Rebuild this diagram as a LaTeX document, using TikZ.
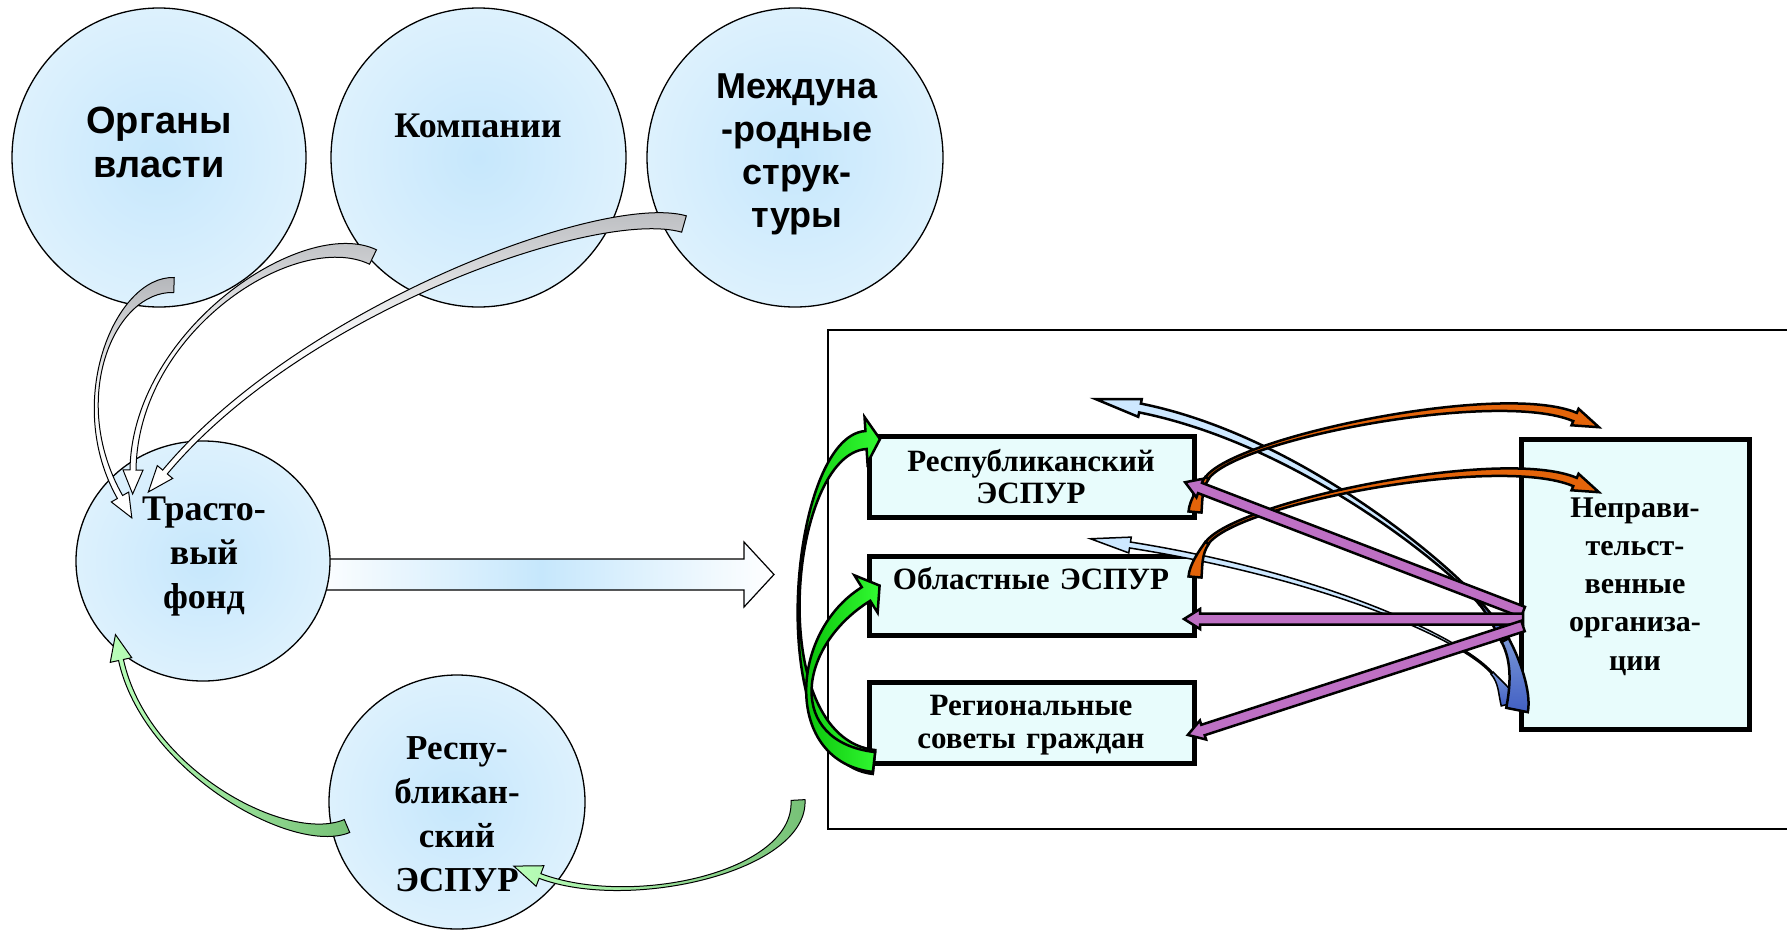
\documentclass[tikz,border=0pt]{standalone}
\usepackage{fontspec}
\setmainfont{Liberation Serif}
\newfontfamily\timesfont{Liberation Serif}
\newfontfamily\arialfont{Liberation Sans}
\usetikzlibrary{calc,shapes.geometric}

\definecolor{ellin}{RGB}{198,231,252}
\definecolor{ellout}{RGB}{244,251,255}
\definecolor{boxfill}{RGB}{232,252,252}
\definecolor{graytail}{RGB}{180,182,186}
\definecolor{greenlt}{RGB}{185,255,185}
\definecolor{greendk}{RGB}{118,192,118}
\definecolor{brgreenA}{RGB}{0,180,0}
\definecolor{brgreenB}{RGB}{50,250,50}
\definecolor{purplearr}{RGB}{190,112,196}
\definecolor{orangearr}{RGB}{228,100,10}
\definecolor{bluelt}{RGB}{205,232,255}
\definecolor{bluemid}{RGB}{120,150,215}
\definecolor{bluedk}{RGB}{65,95,195}

\pgfdeclareradialshading{ellsh}{\pgfpoint{0bp}{0bp}}{color(0bp)=(ellin); color(50bp)=(ellout); color(100bp)=(ellout)}

% tapered curved block arrow: P0 P1 P2 P3, half width at start, half width at end, head half width, head length, style
\newcommand\barrow[9]{%
  \coordinate (q0) at #1;
  \coordinate (q1) at #2;
  \coordinate (q2) at #3;
  \coordinate (q3) at #4;
  \path[#9] ($(q0)!#5!90:(q1)$) .. controls ($(q1)!#5!-90:(q0)$) and ($(q2)!#6!90:(q3)$) .. ($(q3)!#6!-90:(q2)$)
    -- ($(q3)!#7!-90:(q2)$) -- ($(q3)!-#8!(q2)$) -- ($(q3)!#7!90:(q2)$) -- ($(q3)!#6!90:(q2)$)
    .. controls ($(q2)!#6!-90:(q3)$) and ($(q1)!#5!90:(q0)$) .. ($(q0)!#5!-90:(q1)$) -- cycle;
}
% tapered curved band without head
\newcommand\ribbon[7]{%
  \coordinate (q0) at #1;
  \coordinate (q1) at #2;
  \coordinate (q2) at #3;
  \coordinate (q3) at #4;
  \path[#7] ($(q0)!#5!90:(q1)$) .. controls ($(q1)!#5!-90:(q0)$) and ($(q2)!#6!90:(q3)$) .. ($(q3)!#6!-90:(q2)$)
    -- ($(q3)!#6!90:(q2)$) .. controls ($(q2)!#6!-90:(q3)$) and ($(q1)!#5!90:(q0)$) .. ($(q0)!#5!-90:(q1)$) -- cycle;
}

\tikzset{
  ell/.style={ellipse, draw=black, line width=1.3pt, shade, shading=ellsh, inner sep=0pt},
  ebox/.style={rectangle, draw=black, line width=5pt, fill=boxfill, inner sep=0pt},
  txt/.style={anchor=base, inner sep=0pt, align=center, text width=400pt},
  tserif/.style 2 args={font=\timesfont\fontsize{#1}{#2}\selectfont\bfseries},
  tsans/.style 2 args={font=\arialfont\fontsize{#1}{#2}\selectfont\bfseries},
  grayarr/.style={draw=black, line width=1pt, top color=graytail, bottom color=white, middle color=white!92!graytail},
  ltgreenarr/.style={draw=black, line width=1pt, left color=greenlt, right color=greendk},
  brgreenarr/.style={draw=black, line width=2.5pt, left color=brgreenA, right color=brgreenB},
  orangearrow/.style={draw=black, line width=2.5pt, fill=orangearr},
  bluetail/.style={draw=black, line width=2.5pt, top color=bluemid, bottom color=bluedk},
  bluehead/.style={draw=black, line width=2.5pt, fill=bluelt},
  purplearrow/.style={draw=black, line width=2.5pt, fill=purplearr},
  hollow/.style={draw=black, line width=1.2pt, left color=white, right color=white, middle color=ellin},
}

\begin{document}
\begin{tikzpicture}[x=1pt,y=-1pt]
\useasboundingbox (0,0) rectangle (1787,929);
\fill[white] (0,0) rectangle (1787,929);

% frame of the right panel
\coordinate (frTR) at (1787,330);
\coordinate (frBR) at (1787,829);
\draw[line width=1.5pt] (frTR) -| (828,829) -- (frBR);

% big hollow arrow from the trust fund to the panel
\coordinate (bigS) at (308,574.5);
\coordinate (bigE) at (774,574.5);
\path[hollow] ($(bigS)+(0,-15.5)$) -- ++(436,0) -- ++(0,-17) -- (bigE) -- ++(-30,32.5) -- ++(0,-17) -- ($(bigS)+(0,15.5)$) -- cycle;

% ellipses
\node[ell, minimum width=294pt, minimum height=299pt] (orgA) at (159,157.5) {};
\node[ell, minimum width=295pt, minimum height=299pt] (kompB) at (478.5,157.5) {};
\node[ell, minimum width=296pt, minimum height=299pt] (mezhC) at (795,157.5) {};
\node[ell, minimum width=254pt, minimum height=240pt] (trustD) at (203,561) {};
\node[ell, minimum width=256pt, minimum height=254pt] (respE) at (457,802) {};

\node[txt, tsans={38}{44}] (tA) at (159,133) {Органы\\власти};
\node[txt, tserif={36}{40}] (tB) at (478,137) {Компании};
\node[txt, tsans={36}{43.3}] (tC) at (797,98) {Междуна\\-родные\\струк-\\туры};
\node[txt, tserif={36}{44}] (tD) at (204,520) {Трасто-\\вый\\фонд};
\node[txt, tserif={35}{44}] (tE) at (457,759) {Респу-\\бликан-\\ский\\ЭСПУР};

% gray arrows into the trust fund
\barrow{(174,285)}{(115,283)}{(65,400)}{(120,497)}{7.5pt}{3pt}{10pt}{24pt}{grayarr}
\barrow{(373,257)}{(300,222)}{(135,330)}{(133,470)}{8pt}{3pt}{10pt}{24pt}{grayarr}
\barrow{(684,224)}{(600,200)}{(300,310)}{(165,472)}{8.5pt}{3pt}{10pt}{26pt}{grayarr}

% light green arrows
\barrow{(347,826)}{(290,850)}{(145,770)}{(121,660)}{7pt}{2.5pt}{11pt}{26pt}{ltgreenarr}
\barrow{(798,800)}{(802,872)}{(630,910)}{(540,876)}{7pt}{2.5pt}{11pt}{28pt}{ltgreenarr}

% boxes
\node[ebox, minimum width=325pt, minimum height=81pt] (box1) at (1032,477) {};
\node[ebox, minimum width=325pt, minimum height=79pt] (box2) at (1032,596) {};
\node[ebox, minimum width=325pt, minimum height=81pt] (box3) at (1032,723) {};
\node[ebox, minimum width=228pt, minimum height=290pt] (ngo) at (1635.5,584.5) {};

\node[txt, tserif={31}{32}] (t1) at (1031,471) {Республиканский\\ЭСПУР};
\node[txt, tserif={31}{32}] (t2) at (1031,589) {Областные ЭСПУР};
\node[txt, tserif={31}{33}] (t3) at (1031,715) {Региональные\\советы граждан};
\node[txt, tserif={30}{38.3}] (t4) at (1635,517) {Неправи-\\тельст-\\венные\\организа-\\ции};

% blue arrows (wide dark tail, thin body, light head)
\ribbon{(1509,704)}{(1506,692)}{(1500,682)}{(1492,673)}{8pt}{1.5pt}{bluetail, line width=1.5pt}
\barrow{(1492,673)}{(1460,637)}{(1320,575)}{(1130,545)}{0.8pt}{3pt}{8pt}{40pt}{bluehead, line width=1.5pt}
\ribbon{(1517,710)}{(1521,690)}{(1516,660)}{(1505,640)}{11pt}{4pt}{bluetail}
\ribbon{(1505,640)}{(1500,630)}{(1490,615)}{(1480,603)}{4pt}{1.4pt}{bluetail}
\barrow{(1480,603)}{(1450,567)}{(1300,440)}{(1140,408)}{1.4pt}{4.5pt}{9pt}{45pt}{bluehead}

% orange arrows
\ribbon{(1195,512)}{(1196,500)}{(1200,488)}{(1207,478)}{6.5pt}{2pt}{orangearrow}
\barrow{(1207,478)}{(1235,438)}{(1500,385)}{(1575,417)}{1.7pt}{4.5pt}{9pt}{26pt}{orangearrow}
\ribbon{(1195,577)}{(1196,565)}{(1200,553)}{(1207,543)}{6.5pt}{2pt}{orangearrow}
\barrow{(1207,543)}{(1235,503)}{(1500,450)}{(1575,482)}{1.7pt}{4.5pt}{9pt}{26pt}{orangearrow}

% purple arrows from NGO
\coordinate (pS1) at (1523,612);
\coordinate (pE1) at (1200,488);
\coordinate (pS2) at (1523,619);
\coordinate (pE2) at (1200,619);
\coordinate (pS3) at (1523,626);
\coordinate (pE3) at (1203,730);
\barrow{(pS1)}{($(pS1)!.33!(pE1)$)}{($(pS1)!.67!(pE1)$)}{(pE1)}{5.5pt}{5.5pt}{10pt}{16pt}{purplearrow}
\barrow{(pS2)}{($(pS2)!.33!(pE2)$)}{($(pS2)!.67!(pE2)$)}{(pE2)}{5.5pt}{5.5pt}{10pt}{16pt}{purplearrow}
\barrow{(pS3)}{($(pS3)!.33!(pE3)$)}{($(pS3)!.67!(pE3)$)}{(pE3)}{5.5pt}{5.5pt}{10pt}{16pt}{purplearrow}

% bright green arrows on the left of the boxes
\barrow{(874,762)}{(762,750)}{(788,445)}{(866,440)}{12pt}{9pt}{23pt}{14pt}{brgreenarr}
\barrow{(874,762)}{(785,752)}{(792,640)}{(866,594)}{10pt}{8pt}{22pt}{16pt}{brgreenarr}
\end{tikzpicture}
\end{document}
